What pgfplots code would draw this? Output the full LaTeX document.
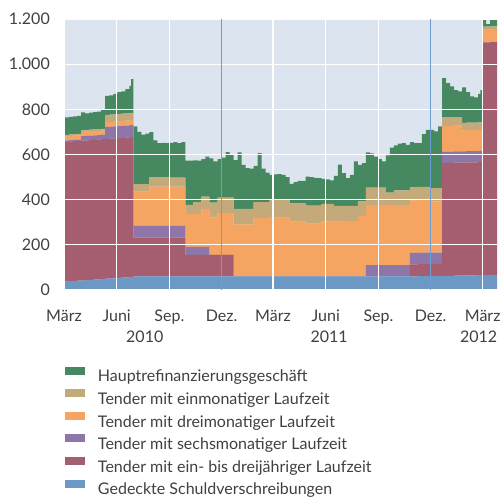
\documentclass[border=0pt]{standalone}
\usepackage{fontspec}
\setmainfont{Lato}
\usepackage{pgfplots}
\usepackage{pgfplotstable}
\pgfplotsset{compat=1.18}
\definecolor{cgreen}{HTML}{468961}
\definecolor{ctan}{HTML}{C4A97A}
\definecolor{corange}{HTML}{F6A462}
\definecolor{cpurple}{HTML}{8E76A8}
\definecolor{cred}{HTML}{A55E70}
\definecolor{cblue}{HTML}{6B98C4}
\definecolor{cbg}{HTML}{DBE4EF}
\definecolor{cline}{HTML}{6D9FD2}
\definecolor{ctext}{HTML}{404040}
% d = days since 1 March 2010; values in Mrd EUR
\pgfplotstableread{
d blue red six three one mro
0 37 619 6 19 6 77
9 39 619 6 19 6 78
16 40 619 6 19 6 79
23 41 619 6 19 6 80
30 42 619 20 19 7 79
37 44 619 20 19 7 73
44 45 619 20 19 7 75
51 46 619 20 19 7 77
58 47 619 20 19 7 78
65 49 619 20 19 7 86
72 50 619 53 22 32 84
79 51 619 53 22 32 85
86 52 619 53 22 32 90
93 54 619 53 22 32 96
100 55 619 53 22 32 99
107 56 619 53 22 32 108
114 58 619 53 22 32 120
117 58 619 53 22 32 150
121 60 172 53 151 33 256
128 60 172 53 151 33 231
135 60 172 53 151 33 219
142 60 172 53 151 33 223
149 60 172 53 173 42 199
156 60 172 53 173 42 162
163 60 172 53 173 42 150
170 60 172 53 173 42 152
177 60 172 53 173 42 150
184 60 172 53 173 40 154
191 60 172 53 173 40 157
198 60 172 53 173 40 152
205 60 172 53 173 40 157
212 60 95 36 146 40 196
219 60 95 36 146 40 196
226 60 95 36 146 52 185
233 60 95 36 146 52 184
240 60 95 36 167 56 166
247 60 95 36 167 56 177
254 60 95 0 167 65 196
261 60 95 0 167 65 182
268 60 95 0 186 68 171
275 60 95 0 186 68 177
282 60 95 0 186 68 201
289 60 95 0 186 68 191
296 60 0 0 231 68 216
303 60 0 0 231 68 250
310 60 0 0 231 68 195
317 60 0 0 231 68 181
324 60 0 0 231 68 178
331 60 0 0 258 71 161
338 60 0 0 258 71 217
345 60 0 0 258 71 148
352 60 0 0 258 71 131
359 60 0 0 260 82 108
366 60 0 0 260 82 110
373 60 0 0 260 82 111
380 60 0 0 260 82 108
387 60 0 0 260 82 98
394 60 0 0 243 81 86
401 60 0 0 243 81 94
408 60 0 0 243 81 99
415 60 0 0 243 81 99
422 60 0 0 234 80 128
429 60 0 0 234 80 126
436 60 0 0 234 80 123
443 60 0 0 234 80 121
450 60 0 0 243 78 111
457 60 0 0 243 78 109
464 60 0 0 243 78 104
471 60 0 0 243 69 133
478 60 0 0 243 69 183
485 60 0 0 246 66 145
492 60 0 0 246 66 123
499 60 0 0 246 66 138
506 60 0 0 246 66 197
513 60 0 0 267 65 162
520 60 0 0 267 65 170
527 60 0 50 266 77 156
534 60 0 50 266 77 152
541 60 0 50 266 77 138
548 60 0 50 266 77 126
555 60 0 50 266 77 116
562 60 0 50 266 55 165
569 60 0 50 266 55 199
576 60 0 50 266 65 199
583 60 0 50 266 65 207
590 60 0 50 266 65 209
597 60 0 50 266 65 202
604 60 54 50 233 59 199
611 60 54 50 233 59 194
618 61 54 50 233 59 193
625 61 54 50 233 59 233
632 61 54 50 233 59 252
639 62 54 50 226 59 258
646 62 54 50 226 59 251
653 62 54 50 226 59 273
660 63 500 50 114 38 173
667 63 500 50 114 38 151
674 63 500 50 114 38 137
681 64 500 50 114 38 119
688 64 500 50 114 38 113
695 64 500 50 93 33 157
702 65 500 50 93 33 135
709 65 500 50 93 33 116
716 65 500 50 93 33 112
723 66 500 50 93 33 126
727 66 500 50 93 33 143
730 66 1031 0 58 11 31
737 66 1031 0 58 11 11
744 67 1031 0 58 11 38
751 67 1031 0 58 11 43
756 67 1031 0 58 11 43
}\data
\begin{document}
\begin{tikzpicture}[font=\fontsize{16bp}{19bp}\selectfont, text=ctext]
\useasboundingbox (0,0) rectangle (501bp,498bp);
\begin{axis}[
  at={(64bp,208bp)}, anchor=south west,
  scale only axis, width=433bp, height=271bp,
  xmin=0, xmax=756, ymin=0, ymax=1200,
  stack plots=y, area style,
  clip mode=individual,
  axis background/.style={fill=cbg},
  axis line style={draw=none},
  tick style={draw=none},
  major tick length=0pt,
  grid=major,
  major grid style={white, line width=1.3bp},
  ytick={0,200,400,600,800,1000,1200},
  yticklabels={0,200,400,600,800,1.000,1.200},
  yticklabel style={anchor=east, inner sep=0pt, xshift=-14bp},
  xtick={0,92,184,365,457,549,731},
  xticklabels={März,Juni,Sep.,März,Juni,Sep.,März},
  xticklabel style={anchor=north, inner sep=0pt, yshift=-20bp},
  extra x ticks={275,640},
  extra x tick labels={Dez.,Dez.},
  extra x tick style={major grid style={cline, line width=1.3bp}},
  legend image code/.code={\fill[#1] (0bp,3.3bp) rectangle (20bp,11.3bp);},
  legend cell align=left,
  reverse legend,
  legend style={at={(0.0023,-0.2830)}, anchor=north west, draw=none, fill=none,
    inner sep=0pt, outer sep=0pt, row sep=3.3bp, column sep=13bp,
    nodes={inner sep=0pt, text height=12bp, text depth=4bp},
    font=\fontsize{16bp}{19bp}\selectfont},
]
\addplot[const plot, fill=cblue, draw=none] table[x=d, y=blue] {\data} \closedcycle;
\addlegendentry{Gedeckte Schuldverschreibungen}
\addplot[const plot, fill=cred, draw=none] table[x=d, y=red] {\data} \closedcycle;
\addlegendentry{Tender mit ein- bis dreijähriger Laufzeit}
\addplot[const plot, fill=cpurple, draw=none] table[x=d, y=six] {\data} \closedcycle;
\addlegendentry{Tender mit sechsmonatiger Laufzeit}
\addplot[const plot, fill=corange, draw=none] table[x=d, y=three] {\data} \closedcycle;
\addlegendentry{Tender mit dreimonatiger Laufzeit}
\addplot[const plot, fill=ctan, draw=none] table[x=d, y=one] {\data} \closedcycle;
\addlegendentry{Tender mit einmonatiger Laufzeit}
\addplot[const plot, fill=cgreen, draw=none] table[x=d, y=mro] {\data} \closedcycle;
\addlegendentry{Hauptrefinanzierungsgeschäft}
\node[anchor=north, inner sep=0pt, yshift=-41bp] at (axis cs:141,0) {2010};
\node[anchor=north, inner sep=0pt, yshift=-41bp] at (axis cs:463,0) {2011};
\node[anchor=north, inner sep=0pt, yshift=-41bp] at (axis cs:724,0) {2012};
\end{axis}
\end{tikzpicture}
\end{document}
